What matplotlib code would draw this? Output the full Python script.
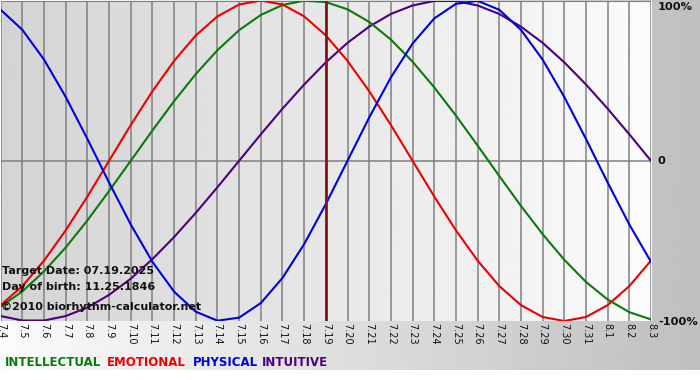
import numpy as np
import matplotlib
matplotlib.use("Agg")
import matplotlib.pyplot as plt

plt.rcParams["font.family"] = ["DejaVu Sans"]

# days shown on the x axis (15 days before and after the target date)
day_labels = ["7.4", "7.5", "7.6", "7.7", "7.8", "7.9", "7.10", "7.11", "7.12",
              "7.13", "7.14", "7.15", "7.16", "7.17", "7.18", "7.19", "7.20",
              "7.21", "7.22", "7.23", "7.24", "7.25", "7.26", "7.27", "7.28",
              "7.29", "7.30", "7.31", "8.1", "8.2", "8.3"]

# cycle values per day (-1 .. 1)
physical = [0.942, 0.817, 0.631, 0.398, 0.136, -0.136, -0.398, -0.631, -0.817,
            -0.942, -0.998, -0.979, -0.888, -0.731, -0.520, -0.270, 0.0,
            0.270, 0.520, 0.731, 0.888, 0.979, 0.998, 0.942, 0.817, 0.631,
            0.398, 0.136, -0.136, -0.398, -0.631]
emotional = [-0.901, -0.782, -0.623, -0.434, -0.223, 0.0, 0.223, 0.434, 0.623,
             0.782, 0.901, 0.975, 1.0, 0.975, 0.901, 0.782, 0.623, 0.434,
             0.223, 0.0, -0.223, -0.434, -0.623, -0.782, -0.901, -0.975, -1.0,
             -0.975, -0.901, -0.782, -0.623]
intellectual = [-0.910, -0.815, -0.690, -0.541, -0.372, -0.189, 0.0, 0.189,
                0.372, 0.541, 0.690, 0.815, 0.910, 0.972, 0.999, 0.990, 0.945,
                0.866, 0.756, 0.618, 0.458, 0.282, 0.095, -0.095, -0.282,
                -0.458, -0.618, -0.756, -0.866, -0.945, -0.990]
intuitive = [-0.969, -0.997, -0.997, -0.969, -0.916, -0.837, -0.736, -0.614,
             -0.476, -0.325, -0.165, 0.0, 0.165, 0.325, 0.476, 0.614, 0.736,
             0.837, 0.916, 0.969, 0.997, 0.997, 0.969, 0.916, 0.837, 0.736,
             0.614, 0.476, 0.325, 0.165, 0.0]
target_idx = day_labels.index("7.19")

W, H = 700, 380
fig = plt.figure(figsize=(W / 100, H / 100), dpi=100)

# background: white -> gray horizontal gradient down to y=370, white below
bg = fig.add_axes([0, 0, 1, 1])
bg.set_xlim(0, W)
bg.set_ylim(H, 0)
bg.axis("off")
grad = np.linspace(0.985, 0.75, 256)[None, :]
bg.imshow(grad, cmap="gray", vmin=0, vmax=1, extent=(0, W, 370, 0), aspect="auto")

# plot area
left, right, top, bottom = 0.7, 651, 0.5, 321
ax = fig.add_axes([left / W, 1 - bottom / H, (right - left) / W, (bottom - top) / H])
x = np.arange(len(day_labels))
ax.set_xlim(0, len(day_labels) - 1)
ax.set_ylim(-1, 1)
pg = np.linspace(0.83, 0.985, 256)[None, :]
ax.imshow(pg, cmap="gray", vmin=0, vmax=1, extent=(0, 30, -1, 1), aspect="auto", zorder=0)
for s in ax.spines.values():
    s.set_visible(False)
ax.set_xticks([])
ax.set_yticks([])

for xi in x:
    ax.axvline(xi, color="#808080", lw=1.1, zorder=1)
ax.axhline(0, color="#808080", lw=1.1, zorder=1)
ax.axhline(1, color="#808080", lw=1.5, zorder=1)

line_kw = dict(lw=1.5, zorder=3, solid_joinstyle="round")
ax.plot(x, intuitive, color="#4b0082", **line_kw)
ax.plot(x, intellectual, color="#0a7a0a", **line_kw)
ax.plot(x, emotional, color="#ee0000", **line_kw)
ax.plot(x, physical, color="#0000dd", **line_kw)
ax.axvline(target_idx, color="#801818", lw=2, zorder=4)

# overlay for all texts (pixel coordinates, top-left origin)
ov = fig.add_axes([0, 0, 1, 1], facecolor="none")
ov.set_xlim(0, W)
ov.set_ylim(H, 0)
ov.axis("off")

# day labels under the plot, rotated
for xi, lab in zip(x, day_labels):
    px = left + xi * (right - left) / (len(day_labels) - 1)
    ov.text(px, 323, lab, rotation=-90, ha="center", va="top", fontsize=7,
            color="#111111")

# right side percent labels
pct_kw = dict(ha="left", va="center", fontsize=8.2, fontweight="bold", color="#111111")
ov.text(658, 7, "100%", **pct_kw)
ov.text(658, 161, "0", **pct_kw)
ov.text(658, 322, "-100%", **pct_kw)

# info texts
info_kw = dict(ha="left", va="center", fontsize=8, fontweight="bold", color="#111111")
ov.text(2, 271, "Target Date: 07.19.2025", **info_kw)
ov.text(2, 287, "Day of birth: 11.25.1846", **info_kw)
ov.text(1, 307, "\u00a92010 biorhythm-calculator.net", **info_kw)

# legend words
legend_kw = dict(ha="left", va="center", fontsize=8.5, fontweight="bold")
ov.text(5, 362, "INTELLECTUAL", color="#0a7a0a", **legend_kw)
ov.text(107, 362, "EMOTIONAL", color="#ee0000", **legend_kw)
ov.text(193, 362, "PHYSICAL", color="#0000dd", **legend_kw)
ov.text(262, 362, "INTUITIVE", color="#4b0082", **legend_kw)

fig.savefig("out.png", dpi=100)
